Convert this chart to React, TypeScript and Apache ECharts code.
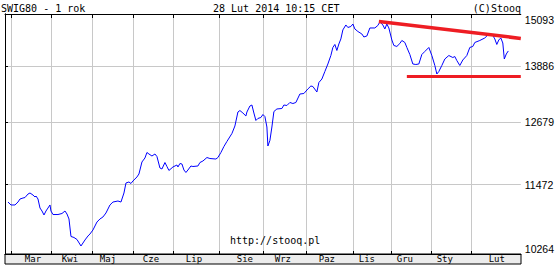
import React, { useEffect, useRef } from "react";
import * as echarts from "echarts";

const title = "SWIG80 - 1 rok";
const stamp = "28 Lut 2014 10:15 CET";
const credit = "(C)Stooq";
const site = "http://stooq.pl";

const monthNames = ["Mar", "Kwi", "Maj", "Cze", "Lip", "Sie", "Wrz", "Paz", "Lis", "Gru", "Sty", "Lut"];
const monthStart = [3, 23, 43.5, 64, 84, 107, 129, 150.5, 174, 193, 213, 233];
const monthLabelAt = [14, 32.5, 51.5, 73, 94.5, 120, 139, 161, 181, 200, 220, 246];
const yTicks = [10264, 11472, 12679, 13886, 15093];

// session position and close of SWIG80
const day = [
  1.5, 3, 5, 6.5, 7.5, 9, 10, 11.5, 12.5, 14,
  15, 15.5, 16.5, 17.5, 18.5, 19.5, 20.5, 21.5, 22.5, 23,
  24, 26.5, 28.5, 30, 31, 32, 33, 34.5, 36, 38,
  40, 41.5, 42.5, 44, 46, 47.5, 49, 50.5, 52.5, 54,
  56.5, 58, 59.5, 60.5, 62, 63, 64, 66, 67, 68.5,
  70, 71, 72, 73.5, 75, 76, 77.5, 78.5, 80, 81,
  82, 84, 86, 86.5, 87.5, 88.5, 89.5, 90.5, 91.5, 93,
  94, 96.5, 97.5, 99, 101, 102.5, 105.5, 106.5, 108, 109.5,
  111, 113.5, 115, 116.5, 117.5, 119, 120.5, 121, 122.5, 123.5,
  124.5, 125.5, 126.5, 128, 129, 130, 131, 131.5, 132.5, 133.5,
  134.5, 136, 138.5, 139.5, 141, 142.5, 144, 145.5, 147.5, 149.5,
  151.5, 153, 154, 156, 157, 158.5, 160, 161.5, 163, 164,
  165, 166, 167, 168, 169, 170.5, 171.5, 173, 174, 175,
  176.5, 178.5, 179.5, 181, 182.5, 185, 186.5, 187.5, 189, 190,
  191, 192, 193.5, 194.5, 196, 197.5, 198.5, 200, 201, 202.5,
  204, 205.5, 207, 208.5, 210, 212, 213.5, 215, 216, 217,
  218.5, 220, 222, 224, 225, 226, 227.5, 229, 231, 232.5,
  234, 235, 237.5, 240, 242, 244, 245, 246, 247, 248,
  249, 249.75, 250.75, 251.75,
];
const close = [
  11158, 11105, 11105, 11158, 11212, 11230, 11239, 11302, 11321, 11284,
  11248, 11266, 11212, 11051, 10998, 10928, 10998, 11051, 11105, 10998,
  10936, 10936, 10954, 10998, 10945, 10858, 10557, 10540, 10506, 10397,
  10498, 10565, 10599, 10668, 10805, 10858, 10893, 10963, 11105, 11158,
  11176, 11158, 11321, 11504, 11523, 11495, 11541, 11616, 11672, 11899,
  11976, 12082, 12053, 12014, 12053, 12004, 11785, 11766, 11889, 11813,
  11738, 11804, 11842, 11804, 11870, 11861, 11747, 11700, 11747, 11823,
  11813, 11823, 11889, 11918, 11985, 11966, 11956, 11985, 12082, 12199,
  12298, 12456, 12608, 12894, 12925, 12873, 12812, 12894, 13019, 13040,
  12873, 12720, 12761, 12781, 12842, 12801, 12587, 12209, 12318, 12587,
  12904, 12957, 12967, 13040, 13030, 13093, 13071, 13093, 13272, 13283,
  13380, 13444, 13433, 13315, 13520, 13596, 13762, 13928, 14119, 14303,
  14372, 14234, 14383, 14500, 14712, 14829, 14770, 14793, 14852, 14734,
  14675, 14616, 14546, 14569, 14758, 14758, 14817, 14901, 14829, 14734,
  14852, 14758, 14476, 14349, 14326, 14395, 14464, 14418, 14303, 14142,
  13928, 13917, 13928, 14142, 14211, 14303, 14119, 13895, 13706, 13761,
  13895, 14040, 14119, 14074, 14096, 14006, 13895, 14018, 14119, 14303,
  14326, 14418, 14464, 14523, 14616, 14581, 14500, 14372, 14476, 14523,
  14406, 14040, 14154, 14223,
];

// hand-drawn trend lines
const resistanceDay = [187, 258];
const resistanceValue = [14913, 14513];
const supportDay = [201, 258];
const supportValue = [13651, 13651];

const X_MIN = 0;
const X_MAX = 258;
const GRID = "#c8c8c8";
const MONO = "DejaVu Sans Mono";

function monthLabel(v: number): string {
  let best = 0;
  let bd = Infinity;
  monthLabelAt.forEach((m, i) => {
    const d = Math.abs(m - v);
    if (d < bd) {
      bd = d;
      best = i;
    }
  });
  return monthNames[best];
}

export default function App() {
  const ref = useRef<HTMLDivElement>(null);
  useEffect(() => {
    if (!ref.current) return;
    const chart = echarts.init(ref.current, undefined, { renderer: "svg" });
    const option: any = {
      animation: false,
      backgroundColor: "#ffffff",
      grid: { left: 5, top: 14, width: 516, height: 240, show: false, containLabel: false },
      graphic: [
        {
          type: "rect",
          z: -1,
          silent: true,
          shape: { x: 5, y: 254, width: 516, height: 10 },
          style: { fill: "#ececec", stroke: "#000", lineWidth: 1 },
        },
        {
          type: "text",
          x: 1,
          y: 8,
          style: { text: title, fontFamily: MONO, fontSize: 10, fill: "#000", align: "left", verticalAlign: "middle" },
        },
        {
          type: "text",
          x: 213,
          y: 8,
          style: { text: stamp, fontFamily: MONO, fontSize: 10, fill: "#000", align: "left", verticalAlign: "middle" },
        },
        {
          type: "text",
          x: 521,
          y: 8,
          style: { text: credit, fontFamily: MONO, fontSize: 10, fill: "#000", align: "right", verticalAlign: "middle" },
        },
        {
          type: "text",
          x: 230,
          y: 240,
          z: 100,
          style: { text: site, fontFamily: MONO, fontSize: 10, fill: "#000", align: "left", verticalAlign: "middle" },
        },
      ],
      xAxis: [
        {
          type: "value",
          min: X_MIN,
          max: X_MAX,
          position: "bottom",
          axisLine: { show: true, lineStyle: { color: "#000", width: 1 } },
          axisTick: { show: true, inside: true, length: 3, customValues: monthStart, lineStyle: { color: "#000" } },
          axisLabel: {
            show: true,
            customValues: monthLabelAt,
            formatter: (v: number) => monthLabel(v),
            margin: 0,
            color: "#000",
            fontFamily: MONO,
            fontSize: 9,
            lineHeight: 10,
            verticalAlign: "top",
          },
          splitLine: { show: true, lineStyle: { color: GRID, width: 1 } },
        },
        {
          type: "value",
          min: X_MIN,
          max: X_MAX,
          position: "top",
          axisLine: { show: true, lineStyle: { color: "#000", width: 1 } },
          axisTick: { show: true, inside: true, length: 4, customValues: monthStart, lineStyle: { color: "#000" } },
          axisLabel: { show: false },
          splitLine: { show: false },
        },
      ],
      yAxis: [
        {
          type: "log",
          logBase: 10,
          min: 10264,
          max: 15093,
          position: "right",
          axisLine: { show: true, lineStyle: { color: "#000", width: 1 } },
          axisTick: { show: true, inside: false, length: 3, customValues: yTicks, lineStyle: { color: "#000" } },
          axisLabel: {
            show: true,
            customValues: yTicks,
            formatter: (v: number) => String(Math.round(v)),
            margin: 4,
            color: "#000",
            fontFamily: "Liberation Sans",
            fontSize: 10.5,
            verticalAlignMinLabel: "bottom",
            verticalAlignMaxLabel: "top",
          },
          splitLine: { show: true, lineStyle: { color: GRID, width: 1 } },
        },
        {
          type: "log",
          logBase: 10,
          min: 10264,
          max: 15093,
          position: "left",
          axisLine: { show: true, lineStyle: { color: "#000", width: 1 } },
          axisTick: { show: true, inside: true, length: 3, customValues: yTicks, lineStyle: { color: "#000" } },
          axisLabel: { show: false },
          splitLine: { show: false },
        },
      ],
      series: [
        {
          type: "line",
          xAxisIndex: 0,
          yAxisIndex: 0,
          data: day.map((d, i) => [d, close[i]]),
          showSymbol: false,
          symbol: "none",
          lineStyle: { color: "#0000ff", width: 1 },
          z: 3,
          silent: true,
        },
        {
          type: "line",
          xAxisIndex: 0,
          yAxisIndex: 0,
          data: resistanceDay.map((d, i) => [d, resistanceValue[i]]),
          symbol: "none",
          lineStyle: { color: "#ee1d23", width: 3.5 },
          z: 4,
          silent: true,
        },
        {
          type: "line",
          xAxisIndex: 0,
          yAxisIndex: 0,
          data: supportDay.map((d, i) => [d, supportValue[i]]),
          symbol: "none",
          lineStyle: { color: "#ee1d23", width: 3 },
          z: 4,
          silent: true,
        },
      ],
    };
    chart.setOption(option);
    return () => chart.dispose();
  }, []);
  return (
    <div
      ref={ref}
      style={{ position: "fixed", left: 0, top: 0, width: 557, height: 265, background: "#fff" }}
    />
  );
}
